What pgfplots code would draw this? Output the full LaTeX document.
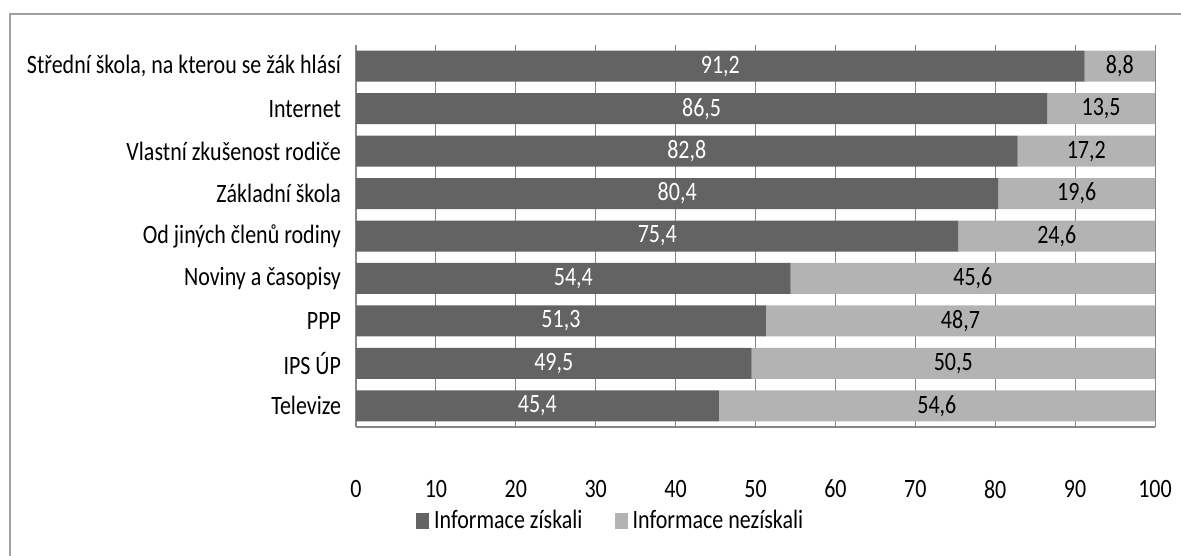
\documentclass[border=0pt]{standalone}
\usepackage{pgfplots}
\pgfplotsset{compat=1.18}
\usepackage{pgfplotstable}
\usepackage{fontspec}
\setmainfont{Carlito}[FakeStretch=0.83]

\definecolor{darkbar}{HTML}{636363}
\definecolor{lightbar}{HTML}{B3B3B3}
\definecolor{gridgray}{HTML}{868686}
\definecolor{framegray}{HTML}{A0A0A0}

% y = 0 is the bottom category
\pgfplotstableread{
y  a     b
0  45.4  54.6
1  49.5  50.5
2  51.3  48.7
3  54.4  45.6
4  75.4  24.6
5  80.4  19.6
6  82.8  17.2
7  86.5  13.5
8  91.2  8.8
}\data

\pgfplotsset{
    chartframe/.style={
        at={(356bp,-427bp)}, anchor=south west,
        scale only axis,
        width=799bp, height=382bp,
        xmin=0, xmax=100,
        ymin=-0.5, ymax=8.5,
    },
}

\begin{document}
\fontsize{26.5bp}{30bp}\selectfont
\begin{tikzpicture}
\useasboundingbox (0,0) rectangle (1181bp,-556bp);
\draw[framegray, line width=2bp] (10bp,-556bp) -- (10bp,-14bp) -- (1181bp,-14bp);
\begin{axis}[
    chartframe,
    xbar stacked,
    bar width=31bp,
    xtick={0,10,...,100},
    ytick={0,...,8},
    yticklabels={Televize, IPS ÚP, PPP, Noviny a časopisy, Od jiných členů rodiny,
        Základní škola, Vlastní zkušenost rodiče, Internet,
        {Střední škola, na kterou se žák hlásí}},
    axis x line*=bottom,
    axis y line*=left,
    axis line style={gridgray, line width=1.2bp, -},
    tick style={draw=none},
    xmajorgrids=true,
    grid style={gridgray, line width=1bp},
    /pgf/number format/assume math mode=true,
    xticklabel style={yshift=-44bp},
    yticklabel style={xshift=-6bp},
    font=\fontsize{26.5bp}{30bp}\selectfont,
    legend columns=2,
    legend style={at={(0.075,-0.246)}, anchor=west, draw=none, fill=none,
        inner sep=0pt,
        /tikz/every odd column/.append style={column sep=5bp},
        /tikz/every even column/.append style={column sep=32bp},
        nodes={inner sep=0pt}},
    legend image code/.code={\fill[#1] (0bp,-8bp) rectangle (13bp,8bp);},
]
\addplot+[draw=none, fill=darkbar] table[x=a, y=y] {\data};
\addplot+[draw=none, fill=lightbar] table[x=b, y=y] {\data};
\legend{Informace získali, Informace nezískali}
\end{axis}
% value labels, centred in each segment
\begin{axis}[
    chartframe,
    hide axis,
    point meta=explicit,
    nodes near coords={\pgfmathprintnumber[fixed, fixed zerofill, precision=1,
        use comma, assume math mode=true]{\pgfplotspointmeta}},
    nodes near coords style={anchor=center, inner sep=0pt,
        font=\fontsize{26.5bp}{30bp}\selectfont},
]
\addplot[draw=none, mark=none, nodes near coords style={text=white}]
    table[x expr=\thisrow{a}/2, y=y, meta=a] {\data};
\addplot[draw=none, mark=none, nodes near coords style={text=black}]
    table[x expr=\thisrow{a}+\thisrow{b}/2, y=y, meta=b] {\data};
\end{axis}
\end{tikzpicture}
\end{document}
